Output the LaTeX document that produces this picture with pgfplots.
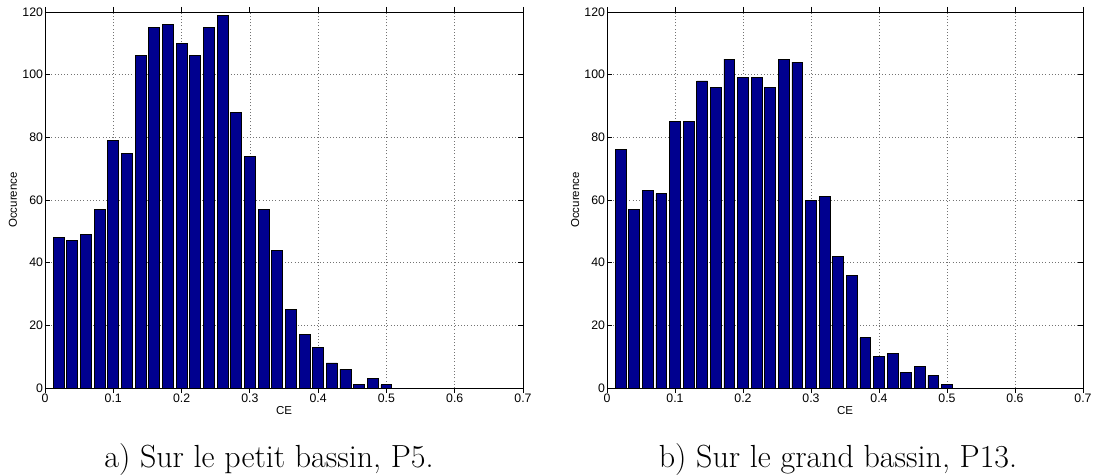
\documentclass[border=0pt]{standalone}
\usepackage{fontspec}
\usepackage{pgfplots}
\pgfplotsset{compat=1.18}
\newfontfamily\helv{Liberation Sans}
\definecolor{matblue}{RGB}{0,0,143}

% Histogram counts of CE, bins centred on 0.02, 0.04, ..., 0.52
\pgfplotstableread{
x     n
0.02  48
0.04  47
0.06  49
0.08  57
0.10  79
0.12  75
0.14  106
0.16  115
0.18  116
0.20  110
0.22  106
0.24  115
0.26  119
0.28  88
0.30  74
0.32  57
0.34  44
0.36  25
0.38  17
0.40  13
0.42  8
0.44  6
0.46  1
0.48  3
0.50  1
0.52  0
}\petit
\pgfplotstableread{
x     n
0.02  76
0.04  57
0.06  63
0.08  62
0.10  85
0.12  85
0.14  98
0.16  96
0.18  105
0.20  99
0.22  99
0.24  96
0.26  105
0.28  104
0.30  60
0.32  61
0.34  42
0.36  36
0.38  16
0.40  10
0.42  11
0.44  5
0.46  7
0.48  4
0.50  1
0.52  0
}\grand

\pgfplotsset{
  histo/.style={
    scale only axis,
    width=478pt, height=376pt,
    anchor=south west,
    xmin=0, xmax=0.7, ymin=0, ymax=120,
    xtick distance=0.1,
    ytick={0,20,...,120},
    tick align=inside,
    major tick length=5pt,
    axis line style={line width=0.9pt},
    major tick style={line width=0.8pt, black},
    grid=major,
    major grid style={black!55, line width=0.55pt, dash pattern=on 1pt off 2.2pt},
    /pgf/number format/assume math mode=true,
    ticklabel style={font=\helv\fontsize{12.3}{14}\selectfont},
    x tick label style={yshift=2.5pt},
    y tick label style={xshift=1.5pt},
    label style={font=\helv\fontsize{11.5}{13}\selectfont},
    xlabel={CE},
    ylabel={Occurence},
    xlabel style={at={(axis description cs:0.5,-0.0612)}, anchor=center},
    ylabel style={at={(axis description cs:-0.067,0.5)}, anchor=center},
    ybar, bar width=0.016, bar shift=0pt,
  },
  histobar/.style={fill=matblue, draw=black, line width=0.8pt},
}

\begin{document}
\begin{tikzpicture}
\path[use as bounding box] (0,0) rectangle (1093pt,475pt);

\begin{axis}[histo, at={(45pt,87pt)}]
  \addplot[histobar] table[x=x, y=n] {\petit};
\end{axis}

\begin{axis}[histo, width=476pt, at={(607pt,87pt)}]
  \addplot[histobar] table[x=x, y=n] {\grand};
\end{axis}

\node[anchor=base, font=\fontsize{32}{38}\selectfont] at (269pt,8pt) {a) Sur le petit bassin, P5.};
\node[anchor=base, font=\fontsize{32}{38}\selectfont] at (838pt,8pt) {b) Sur le grand bassin, P13.};
\end{tikzpicture}
\end{document}
